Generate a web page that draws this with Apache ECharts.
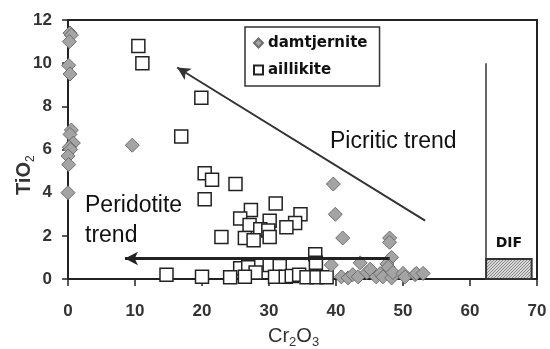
<!DOCTYPE html>
<html>
<head>
<meta charset="utf-8">
<script src="https://cdn.jsdelivr.net/npm/echarts@6/dist/echarts.min.js"></script>
<style>html,body{margin:0;padding:0;background:#fff}#c{width:550px;height:349px}</style>
</head>
<body>
<div id="c"></div>
<script>
// ---- data ----
var xTicks = [0, 10, 20, 30, 40, 50, 60, 70];
var yTicks = [0, 2, 4, 6, 8, 10, 12];
var seriesNames = ['damtjernite', 'aillikite'];
var damtjernite = [
  [0.3,11.4],[0.5,11.3],[0.2,11.0],[0.1,9.9],[0.3,9.5],[0.5,6.9],[0.3,6.7],[0.8,6.3],
  [0.2,6.1],[0.4,6.0],[0.0,5.7],[0.1,5.3],[0.0,4.0],
  [9.6,6.2],[39.6,4.4],[39.9,3.0],[41.0,1.9],[48.0,1.9],[48.0,1.7],[48.3,1.0],[47.6,0.7],
  [39.3,0.65],[43.6,0.75],[47.8,0.55],[40.8,0.1],[41.8,0.05],[42.5,0.2],[43.3,0.1],
  [44.6,0.3],[45.1,0.45],[46.0,0.1],[46.6,0.25],[47.0,0.1],[48.3,0.05],[48.5,0.3],
  [50.0,0.26],[50.3,0.1],[51.8,0.2],[52.0,0.26],[53.0,0.26]
];
var aillikite = [
  [10.5,10.8],[11.1,10.0],[19.9,8.4],[16.9,6.6],[20.4,4.9],[21.5,4.6],[25.0,4.4],[20.4,3.7],
  [31.0,3.5],[27.3,3.2],[25.7,2.8],[34.7,3.0],[33.9,2.6],[32.6,2.4],[30.1,2.7],[27.1,2.5],
  [28.7,2.3],[29.9,2.25],[22.9,1.95],[26.4,1.9],[27.7,1.8],[30.1,1.95],[36.9,1.15],[37.0,0.75],
  [30.1,0.65],[25.7,0.5],[26.9,0.55],[31.6,0.6],[28.0,0.3],[14.7,0.2],[20.0,0.1],[24.2,0.08],
  [26.4,0.1],[30.9,0.1],[32.5,0.1],[33.4,0.14],[34.5,0.2],[35.6,0.08],[37.1,0.08],[38.6,0.08]
];
var picriticArrow = [[53.3, 2.7], [16.3, 9.8]];
var peridotiteArrow = [[48.0, 0.95], [8.5, 0.95]];
var difBox = [[62.4, 0], [69.2, 0.93]];
var difLine = [[62.4, 0.93], [62.4, 10.0]];
var difLabel = 'DIF';
var annotations = ['Picritic trend', 'Peridotite', 'trend'];

// ---- pattern for DIF box ----
var pc = document.createElement('canvas');
pc.width = 3; pc.height = 3;
var pctx = pc.getContext('2d');
pctx.fillStyle = '#d8d8d8'; pctx.fillRect(0,0,3,3);
pctx.fillStyle = '#888'; pctx.fillRect(0,0,1,1); pctx.fillRect(2,1,1,1);pctx.fillRect(1,2,1,1);

var chart = echarts.init(document.getElementById('c'), null, {renderer:'canvas'});
var axisFont = {fontFamily:'Liberation Sans', fontWeight:'bold', fontSize:17, color:'#333'};
function arrowLine(pts, color, width) {
  return [
    {coord:pts[0], symbol:'none', symbolSize:1, lineStyle:{color:color, width:width, type:'solid'}},
    {coord:pts[1], symbol:'arrow', symbolSize:[10,13]}
  ];
}
var option = {
  animation: false,
  grid: {left:68, top:20, right:13, bottom:70, show:true, borderColor:'#222', borderWidth:2, backgroundColor:'transparent'},
  legend: {
    data: [
      {name: seriesNames[0], icon:'diamond'},
      {name: seriesNames[1], icon:'rect'}
    ],
    orient:'vertical', left:245, top:27,
    borderColor:'#333', borderWidth:1.5, borderRadius:0,
    padding:[6,12,6,8], itemGap:7, itemWidth:9, itemHeight:9,
    textStyle:{fontFamily:'DejaVu Sans', fontWeight:'bold', fontSize:15, color:'#111', lineHeight:20}
  },
  xAxis: {
    type:'value', min:xTicks[0], max:xTicks[xTicks.length-1], interval:10,
    axisLine:{show:true, onZero:false, lineStyle:{color:'#222', width:2}},
    axisTick:{show:true, length:7, lineStyle:{color:'#222', width:1.5}},
    axisLabel:Object.assign({margin:24}, axisFont),
    splitLine:{show:false}
  },
  yAxis: {
    type:'value', min:yTicks[0], max:yTicks[yTicks.length-1], interval:2,
    axisLine:{show:true, onZero:false, lineStyle:{color:'#222', width:2}},
    axisTick:{show:true, length:6, lineStyle:{color:'#222', width:1.5}},
    axisLabel:Object.assign({margin:16}, axisFont),
    splitLine:{show:false}
  },
  series: [
    {
      name: seriesNames[1], type:'scatter', symbol:'rect', symbolSize:13,
      itemStyle:{color:'#fff', borderColor:'#222', borderWidth:1.5, opacity:1},
      data: aillikite, z:2,
      markLine: {
        silent:true, label:{show:false}, symbol:['none','arrow'], symbolSize:[10,13],
        data: [
          arrowLine(picriticArrow, '#333', 2),
          arrowLine(peridotiteArrow, '#222', 3),
          [{coord:difLine[0], symbol:'none', lineStyle:{color:'#333', width:1.5, type:'solid'}}, {coord:difLine[1], symbol:'none'}]
        ]
      },
      markArea: {
        silent:true,
        itemStyle:{color:{image:pc, repeat:'repeat'}, borderColor:'#333', borderWidth:2},
        label:{show:true, position:'top', distance:8, formatter:difLabel, fontFamily:'DejaVu Sans', fontWeight:'bold', fontSize:14, color:'#111'},
        data:[[{coord:difBox[0]},{coord:difBox[1]}]]
      }
    },
    {
      name: seriesNames[0], type:'scatter', symbol:'diamond', symbolSize:14,
      itemStyle:{color:'#a4a4a4', borderColor:'#6e6e6e', borderWidth:1, opacity:1},
      data: damtjernite, z:3
    }
  ],
  graphic: [
    {type:'text', left:330, top:130, style:{text:annotations[0], font:'23px "Liberation Sans"', fill:'#111'}},
    {type:'text', left:85, top:194, style:{text:annotations[1], font:'23px "Liberation Sans"', fill:'#111'}},
    {type:'text', left:85, top:224, style:{text:annotations[2], font:'23px "Liberation Sans"', fill:'#111'}},
    {type:'text', x:12, y:195, rotation:Math.PI/2,
      style:{text:'TiO{s|2}', fill:'#333', font:'bold 20px "Liberation Sans"',
        rich:{s:{fontSize:12, fontWeight:'normal', fontFamily:'Liberation Sans', padding:[13,0,0,0], fill:'#333'}}}},
    {type:'text', left:268, top:326,
      style:{text:'Cr{s|2}O{s|3}', fill:'#333', font:'20px "Liberation Sans"',
        rich:{s:{fontSize:13, fontFamily:'Liberation Sans', padding:[13,0,0,0], fill:'#333'}}}}
  ]
};
chart.setOption(option);
</script>
</body>
</html>
